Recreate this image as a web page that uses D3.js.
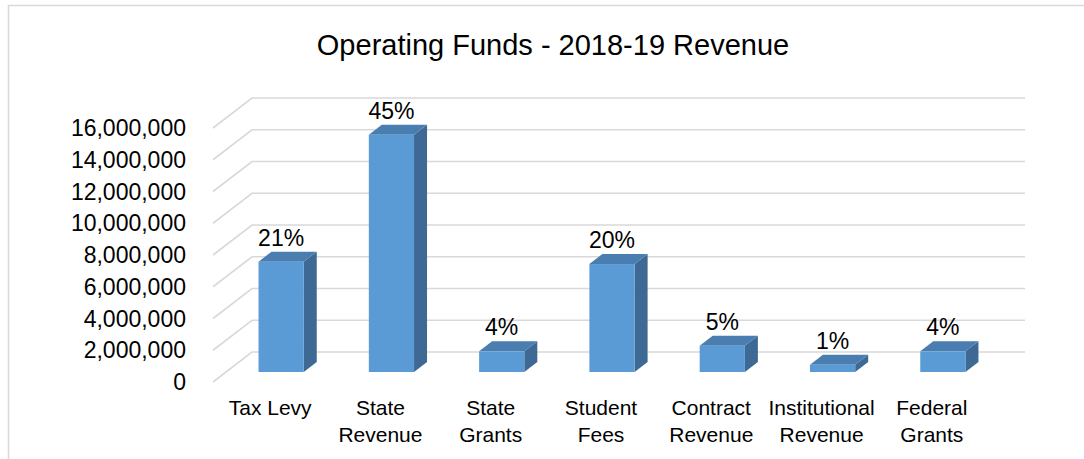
<!DOCTYPE html>
<html>
<head>
<meta charset="utf-8">
<script src="https://cdn.jsdelivr.net/npm/d3@7"></script>
<style>
  html, body { margin: 0; padding: 0; background: #fff; }
  svg { display: block; font-family: "Liberation Sans", Arial, sans-serif; }
</style>
</head>
<body>
<div id="chart"></div>
<script>
// Revenue sources (two-line labels where the category wraps)
const categories = ["Tax Levy", "State Revenue", "State Grants", "Student Fees",
                    "Contract Revenue", "Institutional Revenue", "Federal Grants"];
const labelLines = [["Tax Levy"], ["State", "Revenue"], ["State", "Grants"], ["Student", "Fees"],
                    ["Contract", "Revenue"], ["Institutional", "Revenue"], ["Federal", "Grants"]];
const revenue = [6950000, 14950000, 1300000, 6800000, 1650000, 450000, 1300000];
const tickValues = [0, 2000000, 4000000, 6000000, 8000000, 10000000, 12000000, 14000000, 16000000];
const chartTitle = "Operating Funds - 2018-19 Revenue";

const W = 1084, H = 459;
const svg = d3.select("#chart").append("svg").attr("width", W).attr("height", H);

// outer chart border (only top and left edges fall inside the frame)
svg.append("path")
  .attr("d", `M8.5,${H + 2} V5.5 H${W + 2}`)
  .attr("fill", "none").attr("stroke", "#d9d9d9").attr("stroke-width", 1.6);

// 3-D projection: front plane and depth offset of the back wall
const DX = 39, DY = -30;
const front = { left: 213, right: 985 };
const y = d3.scaleLinear().domain([0, 16000000]).range([382, 128]);
const x = d3.scaleBand().domain(categories).range([front.left, front.right]);
const barW = x.bandwidth() * 0.41;
const z0 = 1 / 3, dz = 1 / 3;   // bars sit in the middle third of the depth

// gridlines: left wall diagonals plus back wall horizontals
const grid = svg.append("g").attr("stroke", "#d9d9d9").attr("stroke-width", 1.6).attr("fill", "none");
tickValues.forEach(v => {
  const yf = y(v), yb = y(v) + DY;
  grid.append("path").attr("d", `M${front.left},${yf} L${front.left + DX},${yb} H${front.right + DX + 1}`);
});

// y-axis labels
const fmt = d3.format(",");
svg.append("g").selectAll("text").data(tickValues).join("text")
  .attr("x", 186).attr("y", d => y(d))
  .attr("text-anchor", "end").attr("dominant-baseline", "central")
  .attr("font-size", 23).attr("fill", "#000")
  .text(d => d === 0 ? "0" : fmt(d));

// bars
const total = d3.sum(revenue);
const bars = svg.append("g").selectAll("g").data(categories).join("g");
bars.each(function (c, i) {
  const g = d3.select(this);
  const v = revenue[i];
  const xf = x(c) + (x.bandwidth() - barW) / 2 + DX * z0;
  const yv = y(v) + DY * z0;
  const y0 = y(0) + DY * z0;
  const ox = DX * dz, oy = DY * dz;
  // side face
  g.append("path")
    .attr("d", `M${xf + barW},${yv} L${xf + barW + ox},${yv + oy} L${xf + barW + ox},${y0 + oy} L${xf + barW},${y0} Z`)
    .attr("fill", "#3e6994");
  // top face
  g.append("path")
    .attr("d", `M${xf},${yv} L${xf + ox},${yv + oy} L${xf + barW + ox},${yv + oy} L${xf + barW},${yv} Z`)
    .attr("fill", "#4a7db0");
  // front face
  g.append("rect")
    .attr("x", xf).attr("y", yv).attr("width", barW).attr("height", y0 - yv)
    .attr("fill", "#5b9bd5");
  // share of total above the bar
  g.append("text")
    .attr("x", xf + barW / 2).attr("y", yv + oy - 6)
    .attr("text-anchor", "middle").attr("font-size", 23).attr("fill", "#000")
    .text(Math.round(v / total * 100) + "%");
});

// category labels
svg.append("g").selectAll("text").data(categories).join("text")
  .attr("x", d => x(d) + x.bandwidth() / 2 + 2)
  .attr("y", 415)
  .attr("text-anchor", "middle").attr("font-size", 21).attr("fill", "#000")
  .each(function (d, i) {
    d3.select(this).selectAll("tspan").data(labelLines[i]).join("tspan")
      .attr("x", x(d) + x.bandwidth() / 2 + 2)
      .attr("dy", (t, k) => k === 0 ? 0 : 27)
      .text(t => t);
  });

// title
svg.append("text")
  .attr("x", 553).attr("y", 55)
  .attr("text-anchor", "middle").attr("font-size", 29).attr("fill", "#000")
  .text(chartTitle);
</script>
</body>
</html>
